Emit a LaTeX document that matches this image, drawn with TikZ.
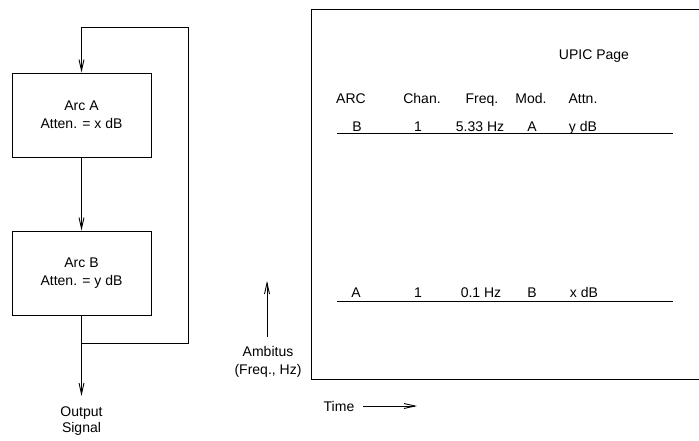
\documentclass[tikz,border=0pt]{standalone}
\usepackage{fontspec}
\setmainfont{Liberation Sans}
\usetikzlibrary{arrows.meta}
\begin{document}
\begin{tikzpicture}[x=1pt,y=-1pt,
  line width=0.9pt,
  lbl/.style={inner sep=0pt,text height=10pt,text depth=0pt,font=\fontsize{14}{16.5}\selectfont},
  mlbl/.style={inner sep=0pt,align=center,font=\fontsize{14}{18}\selectfont},
  blockbox/.style={draw,minimum width=139pt,minimum height=84pt,inner sep=0pt,align=center,font=\fontsize{14}{18}\selectfont},
  arr/.style={-{Straight Barb[length=11pt,width=5pt]}}]
\path[use as bounding box] (0,0) rectangle (699,441);
% left block diagram
\node[blockbox] (A) at (81.5,115) {Arc A\\Atten. = x dB};
\node[blockbox] (B) at (81.5,273) {Arc B\\Atten. = y dB};
\coordinate (top) at (81.5,27);
\coordinate (topr) at (188,27);
\coordinate (botr) at (188,343);
\coordinate (junc) at (81.5,343);
\coordinate (outtip) at (81.5,396);
\node[mlbl,font=\fontsize{14}{16}\selectfont] (out) at (81.5,421) {Output\\Signal};
\draw[arr] (junc) -- (botr) -- (topr) -- (top) -- (A.north);
\draw[arr] (A.south) -- (B.north);
\draw[arr] (B.south) -- (outtip);
% right panel frame
\coordinate (ftr) at (699,9);
\coordinate (ftl) at (311,9);
\coordinate (fbl) at (311,379);
\coordinate (fbr) at (699,379);
\draw (ftr) -- (ftl) -- (fbl) -- (fbr);
\node[lbl] (upic) at (594,55) {UPIC Page};
% header
\node[lbl] (h1) at (351,99) {ARC};
\node[lbl] (h2) at (422,99) {Chan.};
\node[lbl] (h3) at (482,99) {Freq.};
\node[lbl] (h4) at (531,99) {Mod.};
\node[lbl] (h5) at (583,99) {Attn.};
% row B
\node[lbl] (r1) at (357,127) {B};
\node[lbl] (r2) at (418,127) {1};
\node[lbl] (r3) at (480,127) {5.33 Hz};
\node[lbl] (r4) at (532,127) {A};
\node[lbl] (r5) at (583,127) {y dB};
\coordinate (l1a) at (337,133);
\coordinate (l1b) at (673,133);
\draw (l1a) -- (l1b);
% row A
\node[lbl] (s1) at (356,292) {A};
\node[lbl] (s2) at (418,292) {1};
\node[lbl] (s3) at (481,292) {0.1 Hz};
\node[lbl] (s4) at (532,292) {B};
\node[lbl] (s5) at (584,292) {x dB};
\coordinate (l2a) at (337,301);
\coordinate (l2b) at (673,301);
\draw (l2a) -- (l2b);
% axes labels
\node[mlbl] (amb) at (268,362) {Ambitus\\(Freq., Hz)};
\coordinate (ua) at (267,337);
\coordinate (ub) at (267,281);
\draw[arr] (ua) -- (ub);
\node[lbl] (time) at (339,406) {Time};
\coordinate (ta) at (363,406);
\coordinate (tb) at (417,406);
\draw[arr] (ta) -- (tb);
\end{tikzpicture}
\end{document}
